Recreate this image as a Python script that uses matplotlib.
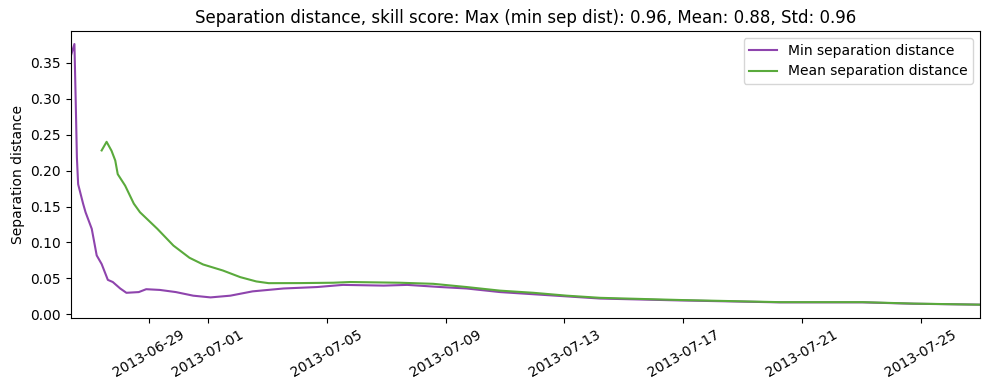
import pandas as pd
import matplotlib
matplotlib.use("Agg")
import matplotlib.pyplot as plt

# simulation start, hours after start for each read-off point
start_time = pd.Timestamp("2013-06-26 09:00")

min_hours = [0, 3, 4, 5, 6, 10, 12, 17, 21, 25, 30, 34, 40, 45, 55, 61, 72, 85,
             99, 113, 129, 147, 172, 199, 220, 253, 272, 299, 320, 347, 374,
             401, 428, 492, 573, 640, 681, 735]
min_sep = [0.359, 0.376, 0.300, 0.218, 0.181, 0.154, 0.142, 0.119, 0.082, 0.070,
           0.048, 0.045, 0.036, 0.030, 0.031, 0.035, 0.034, 0.031, 0.026, 0.0236,
           0.026, 0.032, 0.036, 0.038, 0.041, 0.040, 0.041, 0.038, 0.036, 0.031,
           0.028, 0.025, 0.022, 0.0194, 0.0167, 0.0167, 0.0148, 0.0135]

mean_hours = [25, 29, 33, 36, 38, 44, 51, 56, 70, 83, 96, 107, 123, 137, 150, 160,
              185, 212, 226, 266, 293, 320, 347, 374, 401, 428, 492, 573, 640,
              681, 735]
mean_sep = [0.228, 0.240, 0.2275, 0.214, 0.195, 0.179, 0.154, 0.142, 0.119, 0.0957,
            0.0787, 0.0694, 0.061, 0.0518, 0.0458, 0.0434, 0.0435, 0.044, 0.045,
            0.044, 0.0425, 0.038, 0.033, 0.030, 0.026, 0.023, 0.020, 0.0170,
            0.0170, 0.0150, 0.0135]

skill_max, skill_mean, skill_std = 0.96, 0.88, 0.96

t_min = start_time + pd.to_timedelta(min_hours, unit="h")
t_mean = start_time + pd.to_timedelta(mean_hours, unit="h")

fig, ax = plt.subplots(figsize=(9.89, 3.9), dpi=100)
ax.plot(t_min, min_sep, color="#8e44ad", label="Min separation distance")
ax.plot(t_mean, mean_sep, color="#5aaa3c", label="Mean separation distance")
ax.set_xlim(t_min[0], t_min[-1])
ax.set_ylabel("Separation distance")
ax.set_title(f"Separation distance, skill score: Max (min sep dist): {skill_max:.2f}, "
             f"Mean: {skill_mean:.2f}, Std: {skill_std:.2f}")
ax.legend(loc="upper right")
ax.tick_params(axis="x", rotation=30)
fig.subplots_adjust(left=0.0715, right=0.991, top=0.9205, bottom=0.1854)
fig.savefig("out.png", dpi=100)
